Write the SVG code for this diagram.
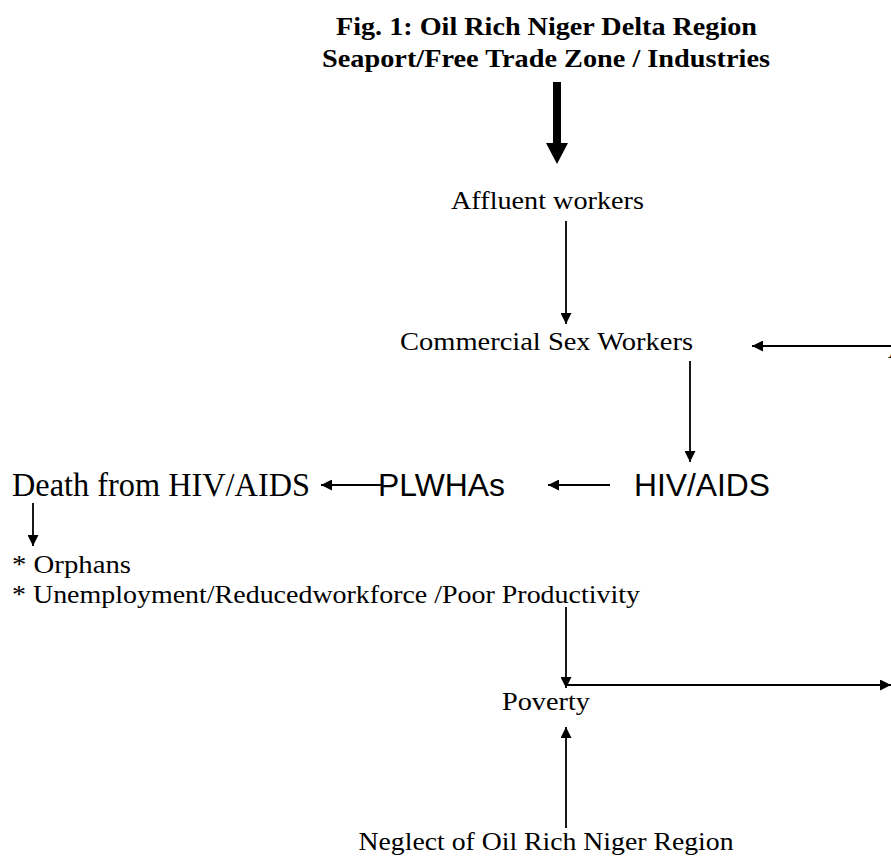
<svg xmlns="http://www.w3.org/2000/svg" width="891" height="856" viewBox="0 0 891 856">
<style>
.s{font-family:"Liberation Serif","Times New Roman",serif;fill:#000}
.b{font-weight:bold}
.a{font-family:"Liberation Sans",Arial,sans-serif;fill:#000}
.c line{stroke:#000;stroke-width:1.8;fill:none}
</style>
<defs>
<marker id="ah" viewBox="0 0 10 10" refX="10" refY="5" markerWidth="11" markerHeight="11" markerUnits="userSpaceOnUse" orient="auto">
<path d="M0,0 L10,5 L0,10 z" fill="#000"/>
</marker>
</defs>
<rect width="891" height="856" fill="#fff"/>
<g id="title">
<text class="s b" x="546.5" y="35" font-size="26" text-anchor="middle" textLength="421" lengthAdjust="spacingAndGlyphs">Fig. 1: Oil Rich Niger Delta Region</text>
<text class="s b" x="546" y="67" font-size="26" text-anchor="middle" textLength="448" lengthAdjust="spacingAndGlyphs">Seaport/Free Trade Zone / Industries</text>
</g>
<g id="affluent"><text class="s" x="547.5" y="209" font-size="26" text-anchor="middle" textLength="193" lengthAdjust="spacingAndGlyphs">Affluent workers</text></g>
<g id="csw"><text class="s" x="546.5" y="350" font-size="26" text-anchor="middle" textLength="293" lengthAdjust="spacingAndGlyphs">Commercial Sex Workers</text></g>
<g id="offscreen"><text class="s" x="888" y="358" font-size="25">A</text></g>
<g id="hiv"><text class="a" x="634" y="496" font-size="31" textLength="136" lengthAdjust="spacingAndGlyphs">HIV/AIDS</text></g>
<g id="plwha"><text class="a" x="378" y="496" font-size="31" textLength="127" lengthAdjust="spacingAndGlyphs">PLWHAs</text></g>
<g id="death"><text class="s" x="12" y="496" font-size="33" textLength="298" lengthAdjust="spacingAndGlyphs">Death from HIV/AIDS</text></g>
<g id="effects">
<text class="s" x="12" y="573" font-size="26" textLength="119" lengthAdjust="spacingAndGlyphs">* Orphans</text>
<text class="s" x="12" y="603" font-size="26" textLength="628" lengthAdjust="spacingAndGlyphs">* Unemployment/Reducedworkforce /Poor Productivity</text>
</g>
<g id="poverty"><text class="s" x="546" y="710" font-size="26" text-anchor="middle" textLength="88" lengthAdjust="spacingAndGlyphs">Poverty</text></g>
<g id="neglect"><text class="s" x="546" y="850" font-size="26" text-anchor="middle" textLength="375" lengthAdjust="spacingAndGlyphs">Neglect of Oil Rich Niger Region</text></g>
<g id="connectors" class="c">
<polygon points="553,82 561,82 561,143 568,143 557,164 546,143 553,143" fill="#000"/>
<line x1="566" y1="221" x2="566" y2="324" marker-end="url(#ah)"/>
<line x1="891" y1="346" x2="752" y2="346" marker-end="url(#ah)"/>
<line x1="690" y1="361" x2="690" y2="462" marker-end="url(#ah)"/>
<line x1="382" y1="485" x2="321" y2="485" marker-end="url(#ah)"/>
<line x1="610" y1="485" x2="548" y2="485" marker-end="url(#ah)"/>
<line x1="33" y1="503" x2="33" y2="546" marker-end="url(#ah)"/>
<line x1="566" y1="607" x2="566" y2="688" marker-end="url(#ah)"/>
<line x1="566" y1="685" x2="891" y2="685" marker-end="url(#ah)"/>
<line x1="566" y1="828" x2="566" y2="727" marker-end="url(#ah)"/>
</g>
</svg>
